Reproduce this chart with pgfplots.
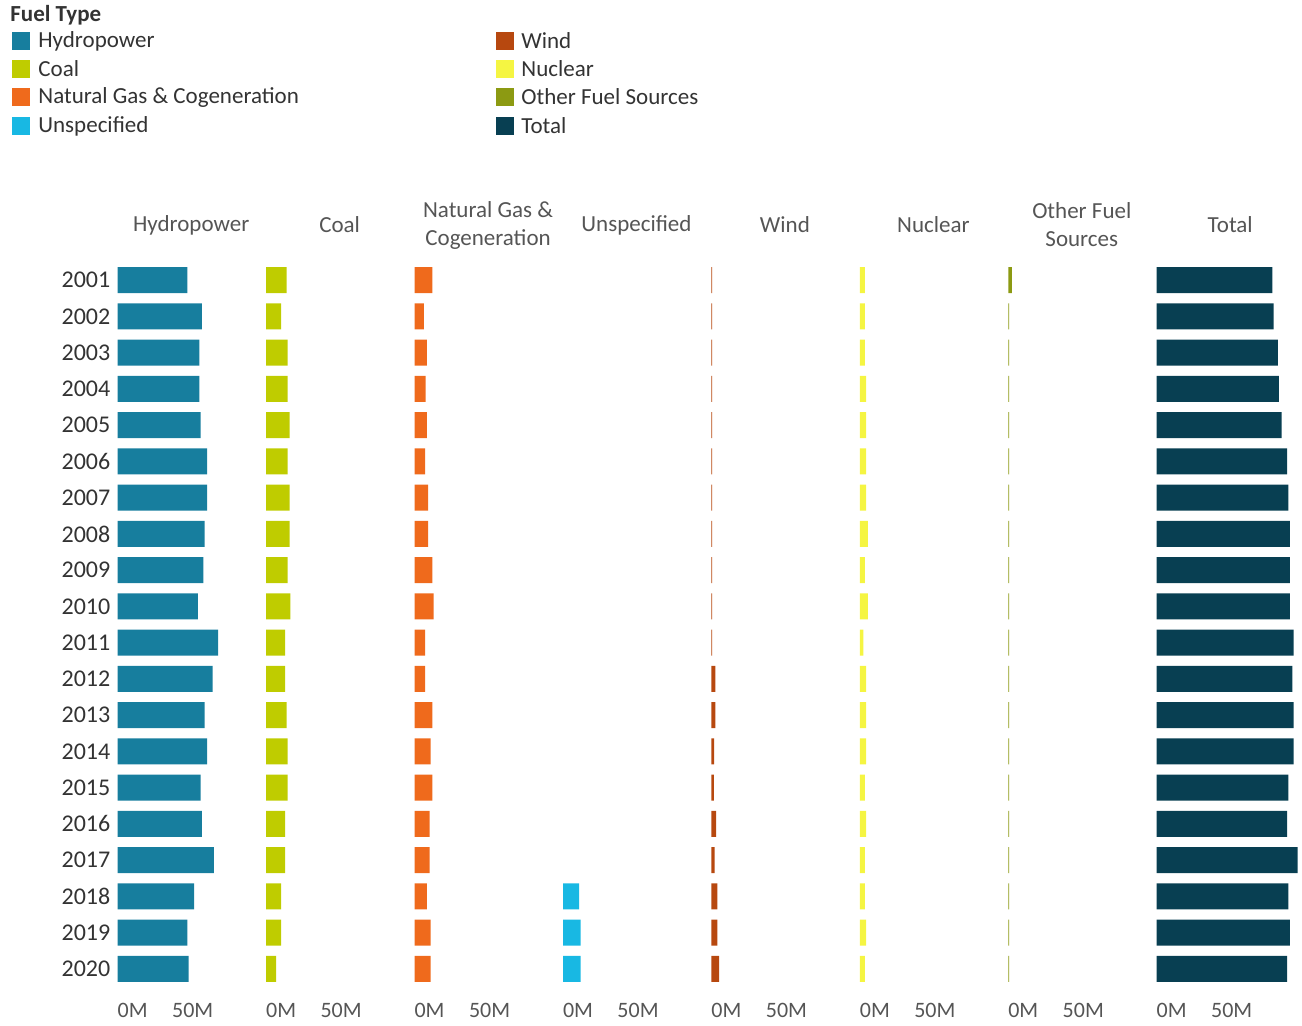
\documentclass[border=0pt]{standalone}
\usepackage{fontspec}
\setmainfont{Carlito}
\usepackage{pgfplots}
\usepackage{pgfplotstable}
\pgfplotsset{compat=1.18}

\definecolor{hydro}{HTML}{177E9E}
\definecolor{coal}{HTML}{BFCC00}
\definecolor{gas}{HTML}{EF6A1C}
\definecolor{unspec}{HTML}{18B8E3}
\definecolor{wind}{HTML}{B7480F}
\definecolor{nuclear}{HTML}{F5F542}
\definecolor{other}{HTML}{8C9A12}
\definecolor{total}{HTML}{083F52}
\definecolor{txt}{HTML}{333333}
\definecolor{lbl}{HTML}{555555}

% generation by fuel type, millions
\pgfplotstableread{
idx hydro coal gas unspec wind nuclear other total
1  46.4 13.6 11.8 nan  0.5 3.3 2.4 77.1
2  56.2 10.0  6.2 nan  0.5 3.3 0.5 78.0
3  54.4 14.4  8.2 nan  0.5 3.3 0.5 80.7
4  54.4 14.4  7.3 nan  0.5 4.2 0.5 81.5
5  55.3 15.6  8.2 nan  0.5 4.2 0.5 83.3
6  59.7 14.4  7.1 nan  0.5 4.2 0.5 86.9
7  59.7 15.6  9.1 nan  0.5 4.2 0.5 87.7
8  58.0 15.6  9.1 nan  0.5 5.3 0.5 88.7
9  57.1 14.4 11.8 nan  0.5 3.3 0.5 88.7
10 53.5 16.2 12.7 nan  0.5 5.3 0.5 88.7
11 66.9 12.7  7.1 nan  0.5 2.4 0.5 91.3
12 63.3 12.7  7.1 nan  2.7 4.2 0.5 90.4
13 58.0 13.6 11.8 nan  2.7 4.2 0.5 91.3
14 59.7 14.4 10.7 nan  1.8 4.2 0.5 91.3
15 55.3 14.4 11.8 nan  1.6 3.3 0.5 87.7
16 56.2 12.7 10.0 nan  3.1 4.2 0.5 86.9
17 64.2 12.7 10.0 nan  2.2 3.3 0.5 94.0
18 50.9 10.0  8.2 10.7 4.0 3.3 0.5 87.7
19 46.4 10.0 10.7 11.8 4.0 4.2 0.5 88.7
20 47.3  6.7 10.7 11.8 5.1 3.3 0.5 86.9
}\data

\pgfplotsset{
  panel/.style={
    scale only axis, width=73.5pt, height=362.5pt,
    anchor=north west,
    xmin=0, xmax=98, ymin=0.5, ymax=20.5, y dir=reverse,
    axis line style={draw=none}, major tick length=0pt,
    xtick={0,50}, xticklabels={\makebox[0pt][l]{0M},50M},
    xticklabel style={anchor=center, yshift=-11.5pt, font=\fontsize{11}{13}\selectfont, text=lbl},
    ytick=\empty,
    title style={at={(0.5,1)}, anchor=center, yshift=12.5pt, align=center,
      font=\fontsize{11.5}{14}\selectfont, text=lbl},
    clip=false,
  },
}

\newcommand{\panel}[4]{%
  \begin{axis}[panel, at={(#1,-131pt)}, title={#4}]
    \addplot[xbar, fill=#3, draw=none, bar width=13pt, bar shift=0pt]
      table[x=#2, y=idx]{\data};
  \end{axis}}

\begin{document}
\begin{tikzpicture}
\useasboundingbox (0,0) rectangle (651pt,-512.5pt);

% legend
\node[anchor=west, font=\bfseries\fontsize{11.5}{14}\selectfont, text=txt, inner sep=0pt] at (5pt,-7.5pt) {Fuel Type};
\foreach \c/\t/\y in {hydro/Hydropower/20.5, coal/Coal/34.5, gas/Natural Gas \& Cogeneration/48.5, unspec/Unspecified/63}{
  \fill[\c] (6pt,-\y pt+4.5pt) rectangle (15pt,-\y pt-4.5pt);
  \node[anchor=west, font=\fontsize{11.5}{14}\selectfont, text=txt, inner sep=0pt] at (19pt,-\y pt) {\t};
}
\foreach \c/\t/\y in {wind/Wind/20.5, nuclear/Nuclear/34.5, other/Other Fuel Sources/48.5, total/Total/63}{
  \fill[\c] (248pt,-\y pt+4.5pt) rectangle (257pt,-\y pt-4.5pt);
  \node[anchor=west, font=\fontsize{11.5}{14}\selectfont, text=txt, inner sep=0pt] at (260.5pt,-\y pt) {\t};
}

\begin{axis}[panel, at={(58.85pt,-131pt)}, title={Hydropower},
  ytick={1,...,20}, yticklabel={\pgfmathtruncatemacro\yr{2000+\tick}\yr},
  yticklabel style={font=\fontsize{12}{14}\selectfont, text=txt, inner sep=0pt, xshift=-3.5pt}]
  \addplot[xbar, fill=hydro, draw=none, bar width=13pt, bar shift=0pt]
    table[x=hydro, y=idx]{\data};
\end{axis}
\panel{133.07pt}{coal}{coal}{Coal}
\panel{207.28pt}{gas}{gas}{Natural Gas \&\\Cogeneration}
\panel{281.50pt}{unspec}{unspec}{Unspecified}
\panel{355.71pt}{wind}{wind}{Wind}
\panel{429.93pt}{nuclear}{nuclear}{Nuclear}
\panel{504.14pt}{other}{other}{Other Fuel\\Sources}
\panel{578.36pt}{total}{total}{Total}
\end{tikzpicture}
\end{document}
